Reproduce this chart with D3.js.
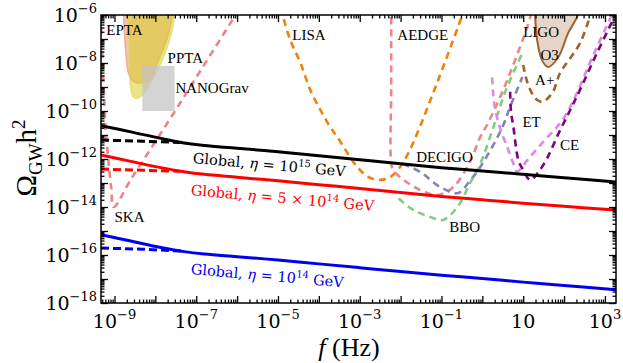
<!DOCTYPE html>
<html>
<head>
<script src="https://d3js.org/d3.v7.min.js"></script>
<style>
body { margin: 0; background: #fff; }
text { font-family: "Liberation Serif", "Times New Roman", serif; fill: #000; }
text.math { font-family: "DejaVu Serif", serif; }
</style>
</head>
<body>
<script>
// all values are log10(f / Hz), log10(Omega_GW h^2)
var etaHigh = [[-9.33,-10.61],[-8.6,-10.87],[-7.9,-11.13],[-7.3,-11.33],[-6.8,-11.44],[-6,-11.55],[-5,-11.7],[-4,-11.86],[-3,-12.03],[-2,-12.2],[-1,-12.36],[0,-12.5],[1,-12.64],[2,-12.78],[3.27,-12.96]];
var etaHighDash = [[-9.33,-11.21],[-8.3,-11.26],[-7.4,-11.31]];
var etaMid = [[-9.33,-11.83],[-8.6,-12.1],[-7.9,-12.35],[-7.3,-12.53],[-6.8,-12.64],[-6,-12.76],[-5,-12.91],[-4,-13.07],[-3,-13.23],[-2,-13.4],[-1,-13.56],[0,-13.7],[1,-13.84],[2,-13.97],[3.27,-14.13]];
var etaMidDash = [[-9.33,-12.42],[-8.3,-12.47],[-7.4,-12.51]];
var etaLow = [[-9.33,-15.15],[-8.6,-15.42],[-7.9,-15.68],[-7.3,-15.86],[-6.8,-15.96],[-6,-16.07],[-5,-16.21],[-4,-16.37],[-3,-16.53],[-2,-16.69],[-1,-16.84],[0,-16.98],[1,-17.13],[2,-17.27],[3.27,-17.45]];
var etaLowDash = [[-9.33,-15.71],[-8.3,-15.76],[-7.3,-15.84]];

var ska = [[-9.33,-6.5],[-9.29,-7.9],[-9.24,-9.96],[-9.22,-10.67],[-9.15,-12.04],[-9.08,-13.2],[-9.02,-14.0],[-8.6,-12.85],[-7.8,-10.75],[-7.0,-8.6],[-6.04,-6],[-5.9,-5.6]];
var lisa = [[-4.95,-5.7],[-4.89,-6],[-4.7,-7.04],[-4.45,-8.0],[-4.21,-9.12],[-3.96,-9.96],[-3.72,-10.67],[-3.55,-11.08],[-3.3,-11.75],[-3.06,-12.33],[-2.79,-12.75],[-2.5,-12.87],[-2.25,-12.75],[-2.01,-12.33],[-1.81,-11.75],[-1.59,-10.92],[-1.27,-9.54],[-0.96,-8.17],[-0.49,-6],[-0.43,-5.7]];
var aedge = [[-2.23,-5.6],[-2.23,-9],[-2.23,-12.17],[-2.18,-12.46],[-1.93,-12.87],[-1.52,-13.29],[-1.1,-13.5],[-0.71,-13.17],[-0.3,-12.1],[-0.05,-11.08],[0.14,-10.5],[0.51,-9.12],[1.1,-6.5],[1.2,-5.9]];
var decigo = [[-1.95,-12.2],[-1.52,-12.54],[-1.03,-13.17],[-0.6,-13.42],[-0.3,-12.9],[0.0,-12.2],[0.49,-10.67],[0.68,-9.83],[0.98,-8.58]];
var bbo = [[-2.05,-13.65],[-1.69,-14.12],[-1.3,-14.4],[-0.96,-14.54],[-0.61,-14.0],[-0.3,-13.0],[-0.05,-12.2],[0.27,-10.67],[0.56,-9.2],[0.98,-7.58]];
var et = [[0.24,-8.6],[0.27,-9.4],[0.32,-9.96],[0.45,-10.8],[0.61,-11.5],[0.75,-12.15],[0.85,-12.52],[1.1,-12.05],[1.35,-11.55],[1.6,-11.08],[1.85,-10.62],[2.08,-10.05],[2.3,-9.3],[2.72,-7.65],[3.18,-5.95]];
var ce = [[0.68,-9.2],[0.7,-10.0],[0.76,-10.67],[0.88,-12.04],[0.98,-12.4],[1.17,-12.87],[1.37,-12.55],[1.59,-11.95],[1.86,-10.95],[2.15,-9.96],[2.38,-9.15],[2.8,-7.6],[3.27,-5.95]];
var aPlus = [[1.0,-8.08],[1.1,-8.8],[1.29,-9.46],[1.46,-9.62],[1.71,-9.25],[1.9,-8.42],[2.15,-7.8],[2.39,-7.17],[2.65,-6.0],[2.7,-5.8]];

var ligoO3 = [[1.28,-5.5],[1.29,-6],[1.34,-7.04],[1.46,-7.88],[1.61,-8.17],[1.86,-7.75],[2.1,-6.75],[2.34,-6],[2.4,-5.5]];
var epta = [[-8.79,-5.5],[-8.78,-6],[-8.73,-7.46],[-8.66,-8.42],[-8.55,-8.75],[-8.44,-8.83],[-8.19,-8.79],[-7.92,-7.88],[-7.7,-6.92],[-7.58,-6],[-7.55,-5.5]];
var ppta = [[-8.67,-5.5],[-8.66,-6],[-8.64,-7.5],[-8.63,-8.58],[-8.54,-9.42],[-8.41,-9.46],[-8.25,-9.2],[-8.12,-8.83],[-7.83,-7.88],[-7.63,-6.92],[-7.53,-6],[-7.5,-5.5]];
var nanogravFreq = [-8.32, -7.53];
var nanogravOmega = [-10.0, -8.12];

var xTickPowers = [-9, -7, -5, -3, -1, 1, 3];
var yTickPowers = [-6, -8, -10, -12, -14, -16, -18];

var detectorLabels = [
  ["EPTA", -9.2, -6.83], ["PPTA", -7.7, -8.0], ["NANOGrav", -7.51, -9.25],
  ["LISA", -4.65, -7.04], ["AEDGE", -2.08, -7.04], ["LIGO", 1.0, -6.92],
  ["O3", 1.42, -7.875], ["A+", 1.29, -8.92], ["ET", 0.98, -10.67],
  ["CE", 1.9, -11.625], ["DECIGO", -1.62, -12.125], ["BBO", -0.81, -15.04],
  ["SKA", -9.0, -14.625]
];

var width = 623, height = 363,
    plotL = 101, plotR = 616, plotT = 15, plotB = 303;

var svg = d3.select("body").append("svg")
    .attr("width", width)
    .attr("height", height);

var x = d3.scaleLog().domain([Math.pow(10, -9.33), Math.pow(10, 3.27)]).range([plotL, plotR]);
var y = d3.scaleLog().domain([1e-18, 1e-6]).range([plotB, plotT]);

function px(d) { return x(Math.pow(10, d[0])); }
function py(d) { return y(Math.pow(10, d[1])); }

var smoothLine = d3.line().x(px).y(py).curve(d3.curveCatmullRom.alpha(0.5));
var closedLine = d3.line().x(px).y(py).curve(d3.curveCatmullRomClosed.alpha(0.5));
var straightLine = d3.line().x(px).y(py);

svg.append("clipPath").attr("id", "plot")
  .append("rect").attr("x", plotL).attr("y", plotT)
  .attr("width", plotR - plotL).attr("height", plotB - plotT);

var plot = svg.append("g").attr("clip-path", "url(#plot)");

// PTA regions
plot.append("path").attr("d", closedLine(epta))
  .style("fill", "rgb(230,140,90)").style("fill-opacity", 0.5)
  .style("stroke", "rgb(232,150,110)").style("stroke-opacity", 0.6).style("stroke-width", 1.5);
plot.append("path").attr("d", closedLine(ppta))
  .style("fill", "rgb(215,205,40)").style("fill-opacity", 0.55)
  .style("stroke", "rgb(220,215,80)").style("stroke-opacity", 0.6).style("stroke-width", 1.5);
plot.append("rect")
  .attr("x", x(Math.pow(10, nanogravFreq[0])))
  .attr("y", y(Math.pow(10, nanogravOmega[1])))
  .attr("width", x(Math.pow(10, nanogravFreq[1])) - x(Math.pow(10, nanogravFreq[0])))
  .attr("height", y(Math.pow(10, nanogravOmega[0])) - y(Math.pow(10, nanogravOmega[1])))
  .style("fill", "rgb(196,196,196)").style("fill-opacity", 0.72);

// LIGO O3 region
plot.append("path").attr("d", closedLine(ligoO3))
  .style("fill", "#e6d6ca")
  .style("stroke", "#a2622e").style("stroke-width", 2);

// sensitivity curves
var detectors = [
  [ska, "#ec8585"], [lisa, "#f08208"], [aedge, "#ec8585"], [decigo, "#8282c0"],
  [bbo, "#80cc80"], [et, "#d88ce0"], [ce, "#800080"], [aPlus, "#a2622e"]
];
detectors.forEach(function(d) {
  plot.append("path").attr("d", smoothLine(d[0]))
    .style("fill", "none").style("stroke", d[1])
    .style("stroke-width", 2.6).style("stroke-dasharray", "7,5");
});

// global string spectra
var globals = [
  [etaHigh, etaHighDash, "#000"],
  [etaMid, etaMidDash, "#ff0000"],
  [etaLow, etaLowDash, "#0000ee"]
];
globals.forEach(function(g) {
  plot.append("path").attr("d", smoothLine(g[0]))
    .style("fill", "none").style("stroke", g[2]).style("stroke-width", 3);
  plot.append("path").attr("d", straightLine(g[1]))
    .style("fill", "none").style("stroke", g[2]).style("stroke-width", 3)
    .style("stroke-dasharray", "8,4");
});

// detector labels
detectorLabels.forEach(function(l) {
  svg.append("text")
    .attr("x", x(Math.pow(10, l[1])))
    .attr("y", y(Math.pow(10, l[2])))
    .style("font-size", "15px")
    .text(l[0]);
});

// global labels
function globalLabel(lf, lo, color, pre, sup) {
  var t = svg.append("text").attr("class", "math")
    .attr("transform", "translate(" + x(Math.pow(10, lf)) + "," + y(Math.pow(10, lo)) + ") rotate(5)")
    .style("font-size", "14.5px").style("fill", color);
  t.append("tspan").text("Global, ");
  t.append("tspan").style("font-style", "italic").text("\u03b7");
  t.append("tspan").text(pre);
  t.append("tspan").attr("dy", -6).style("font-size", "10px").text(sup);
  t.append("tspan").attr("dy", 6).text(" GeV");
}
globalLabel(-7.09, -12.17, "#000", " = 10", "15");
globalLabel(-7.14, -13.5, "#ff0000", " = 5 \u00d7 10", "14");
globalLabel(-7.14, -16.79, "#0000ee", " = 10", "14");

// ticks
function range(a, b) { var r = []; for (var k = a; k <= b; k++) r.push(k); return r; }
var xMajor = range(-9, 3).map(function(k) { return Math.pow(10, k); });
var xMinor = [];
range(-10, 3).forEach(function(k) {
  for (var m = 2; m < 10; m++) {
    var v = m * Math.pow(10, k);
    if (v > x.domain()[0] && v < x.domain()[1]) xMinor.push(v);
  }
});
var yMajor = range(-18, -6).map(function(k) { return Math.pow(10, k); });
var yMinor = [];
range(-18, -7).forEach(function(k) {
  for (var m = 2; m < 10; m++) yMinor.push(m * Math.pow(10, k));
});

function drawAxis(axis, transform) {
  var g = svg.append("g").attr("transform", transform).call(axis);
  g.select(".domain").remove();
  g.selectAll("line").style("stroke", "#000").style("stroke-width", 1.3);
  g.selectAll("text").remove();
}
drawAxis(d3.axisBottom(x).tickValues(xMajor).tickSize(-7), "translate(0," + plotB + ")");
drawAxis(d3.axisBottom(x).tickValues(xMinor).tickSize(-3.5), "translate(0," + plotB + ")");
drawAxis(d3.axisTop(x).tickValues(xMajor).tickSize(-7), "translate(0," + plotT + ")");
drawAxis(d3.axisTop(x).tickValues(xMinor).tickSize(-3.5), "translate(0," + plotT + ")");
drawAxis(d3.axisLeft(y).tickValues(yMajor).tickSize(-7), "translate(" + plotL + ",0)");
drawAxis(d3.axisLeft(y).tickValues(yMinor).tickSize(-3.5), "translate(" + plotL + ",0)");
drawAxis(d3.axisRight(y).tickValues(yMajor).tickSize(-7), "translate(" + plotR + ",0)");
drawAxis(d3.axisRight(y).tickValues(yMinor).tickSize(-3.5), "translate(" + plotR + ",0)");

svg.append("rect")
  .attr("x", plotL).attr("y", plotT)
  .attr("width", plotR - plotL).attr("height", plotB - plotT)
  .style("fill", "none").style("stroke", "#000").style("stroke-width", 1.5);

function powerLabel(t, k) {
  if (k === 1) { t.text("10"); return; }
  t.append("tspan").text("10");
  t.append("tspan").attr("dy", -9).style("font-size", "13px")
    .text(k < 0 ? "\u2212" + (-k) : String(k));
}
xTickPowers.forEach(function(k) {
  var t = svg.append("text").attr("class", "math")
    .attr("x", x(Math.pow(10, k))).attr("y", plotB + 25)
    .attr("text-anchor", "middle").style("font-size", "19px");
  powerLabel(t, k);
});
yTickPowers.forEach(function(k) {
  var t = svg.append("text").attr("class", "math")
    .attr("x", plotL - 4).attr("y", y(Math.pow(10, k)) + 7)
    .attr("text-anchor", "end").style("font-size", "19px");
  powerLabel(t, k);
});

// axis titles
var xt = svg.append("text").attr("x", 349).attr("y", 356)
  .attr("text-anchor", "middle").style("font-size", "26px");
xt.append("tspan").style("font-style", "italic").text("f");
xt.append("tspan").text(" (Hz)");

var yt = svg.append("text")
  .attr("transform", "translate(36,158) rotate(-90)")
  .attr("text-anchor", "middle").style("font-size", "29px");
yt.append("tspan").text("\u03a9");
yt.append("tspan").attr("dy", 6).style("font-size", "19px").text("GW");
yt.append("tspan").attr("dy", -6).text("h");
yt.append("tspan").attr("dy", -11).style("font-size", "19px").text("2");
</script>
</body>
</html>
